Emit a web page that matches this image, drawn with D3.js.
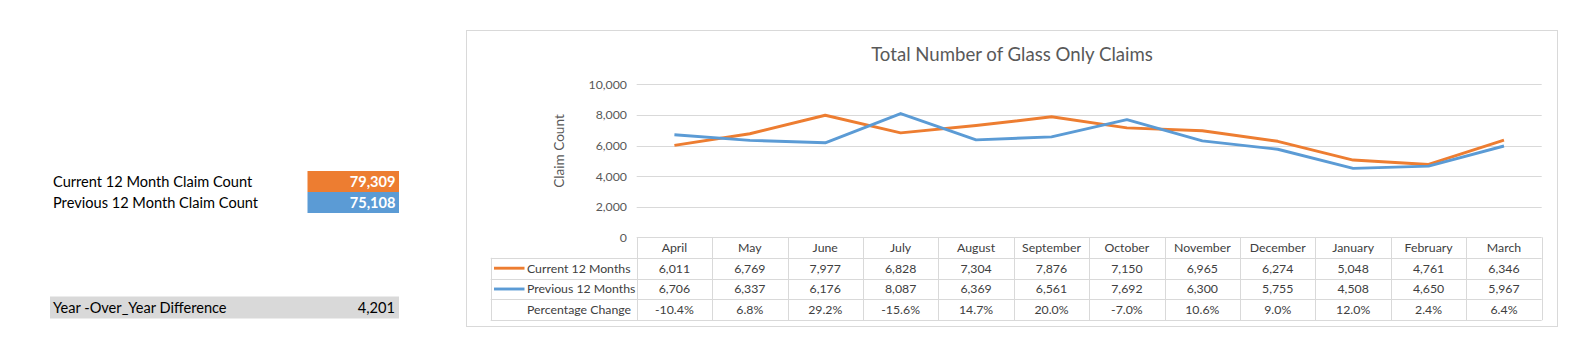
<!DOCTYPE html>
<html><head><meta charset="utf-8">
<script src="https://cdn.jsdelivr.net/npm/d3@7"></script>
<style>
html,body{margin:0;padding:0;background:#fff;}
svg{display:block;font-family:Lato,"Open Sans",sans-serif;}
</style></head>
<body>
<svg id="c" width="1574" height="337"></svg>
<script>
const months = ["April","May","June","July","August","September","October","November","December","January","February","March"];
const current = [6011,6769,7977,6828,7304,7876,7150,6965,6274,5048,4761,6346];
const previous = [6706,6337,6176,8087,6369,6561,7692,6300,5755,4508,4650,5967];
const pctChange = ["-10.4%","6.8%","29.2%","-15.6%","14.7%","20.0%","-7.0%","10.6%","9.0%","12.0%","2.4%","6.4%"];
const yTicks = [0,2000,4000,6000,8000,10000];
const seriesNames = ["Current 12 Months","Previous 12 Months"];
const summaryLabels = ["Current 12 Month Claim Count","Previous 12 Month Claim Count"];
const summaryValues = [79309,75108];
const diffLabel = "Year -Over_Year Difference";
const diffValue = 4201;

const ORANGE="#ED7D31", BLUE="#5B9BD5", GRID="#d9d9d9", TXT="#595959";
const fmt = d3.format(",");
const svg = d3.select("#c");

// Left summary panel
const sumY = d3.scaleBand().domain(summaryLabels).range([171,213]);
const boxColors=[ORANGE,BLUE];
summaryLabels.forEach((l,i)=>{
  svg.append("rect").attr("x",307.5).attr("y",sumY(l)).attr("width",91.5).attr("height",sumY.bandwidth()).attr("fill",boxColors[i]);
  svg.append("text").attr("x",53).attr("y",sumY(l)+sumY.bandwidth()/2+5).attr("font-size",14.6).attr("fill","#000").text(l);
  svg.append("text").attr("x",395.5).attr("y",sumY(l)+sumY.bandwidth()/2+5).attr("font-size",14.6).attr("font-weight","bold").attr("fill","#fff").attr("text-anchor","end").text(fmt(summaryValues[i]));
});
svg.append("rect").attr("x",50).attr("y",296.5).attr("width",349).attr("height",22).attr("fill","#d9d9d9");
svg.append("text").attr("x",53).attr("y",312.5).attr("font-size",14.6).attr("fill","#000").text(diffLabel);
svg.append("text").attr("x",395).attr("y",312.5).attr("font-size",14.6).attr("fill","#000").attr("text-anchor","end").text(fmt(diffValue));

// Chart frame
svg.append("rect").attr("x",466.5).attr("y",30.5).attr("width",1091).attr("height",296).attr("fill","#fff").attr("stroke",GRID);
svg.append("text").attr("x",1012).attr("y",61).attr("text-anchor","middle").attr("font-size",18.6).attr("fill",TXT).text("Total Number of Glass Only Claims");

const x = d3.scaleBand().domain(months).range([636.7,1541.7]);
const y = d3.scaleLinear().domain([0,10000]).range([237.3,84.3]);

// gridlines
svg.append("g").selectAll("line").data(yTicks.filter(d=>d>0)).join("line")
  .attr("x1",x.range()[0]).attr("x2",x.range()[1])
  .attr("y1",d=>Math.round(y(d))+0.5).attr("y2",d=>Math.round(y(d))+0.5)
  .attr("stroke",GRID).attr("stroke-width",1);

const yAxis = svg.append("g").attr("transform","translate(627,0)")
  .call(d3.axisLeft(y).tickValues(yTicks).tickFormat(fmt).tickSize(0).tickPadding(0));
yAxis.select(".domain").remove();
yAxis.selectAll("text").attr("font-size",12.3).attr("fill",TXT).attr("font-family","Lato,'Open Sans',sans-serif");

svg.append("text").attr("transform","translate(564,151) rotate(-90)").attr("text-anchor","middle")
  .attr("font-size",13.6).attr("fill",TXT).text("Claim Count");

// lines
const line = d3.line().x((d,i)=>x(months[i])+x.bandwidth()/2).y(d=>y(d));
svg.append("path").datum(current).attr("d",line).attr("fill","none").attr("stroke",ORANGE).attr("stroke-width",2.9).attr("stroke-linejoin","round");
svg.append("path").datum(previous).attr("d",line).attr("fill","none").attr("stroke",BLUE).attr("stroke-width",2.9).attr("stroke-linejoin","round");

// data table
const rowY = [237.3,257.8,278.6,299.4,320.2];
const tbl = svg.append("g");
const tLeft = 490.7, tRight = x.range()[1], cStart = x.range()[0];
tbl.append("line").attr("x1",cStart).attr("x2",tRight).attr("y1",Math.round(rowY[0])+0.5).attr("y2",Math.round(rowY[0])+0.5).attr("stroke",GRID);
rowY.slice(1).forEach(ry=>{
  tbl.append("line").attr("x1",tLeft).attr("x2",tRight).attr("y1",Math.round(ry)+0.5).attr("y2",Math.round(ry)+0.5).attr("stroke",GRID);
});
tbl.append("line").attr("x1",Math.round(tLeft)+0.5).attr("x2",Math.round(tLeft)+0.5).attr("y1",rowY[1]).attr("y2",rowY[4]).attr("stroke",GRID);
months.forEach(m=>{
  const xx = Math.round(x(m))+0.5;
  tbl.append("line").attr("x1",xx).attr("x2",xx).attr("y1",rowY[0]).attr("y2",rowY[4]).attr("stroke",GRID);
});
tbl.append("line").attr("x1",Math.round(tRight)+0.5).attr("x2",Math.round(tRight)+0.5).attr("y1",rowY[0]).attr("y2",rowY[4]).attr("stroke",GRID);

const rows = [months, current.map(fmt), previous.map(fmt), pctChange];
rows.forEach((r,ri)=>{
  const cy = (rowY[ri]+rowY[ri+1])/2 + 4.3;
  months.forEach((m,i)=>{
    tbl.append("text").attr("x",x(m)+x.bandwidth()/2).attr("y",cy).attr("text-anchor","middle")
      .attr("font-size",12.3).attr("fill","#404040").text(r[i]);
  });
});
const rowLabels = [seriesNames[0], seriesNames[1], "Percentage Change"];
const keyColors = [ORANGE, BLUE, null];
rowLabels.forEach((l,i)=>{
  const cy = (rowY[i+1]+rowY[i+2])/2;
  if(keyColors[i]) tbl.append("line").attr("x1",494).attr("x2",524.5).attr("y1",cy).attr("y2",cy).attr("stroke",keyColors[i]).attr("stroke-width",2.9);
  tbl.append("text").attr("x",527).attr("y",cy+4.3).attr("font-size",12.3).attr("fill","#404040").text(l);
});
</script>
</body></html>
